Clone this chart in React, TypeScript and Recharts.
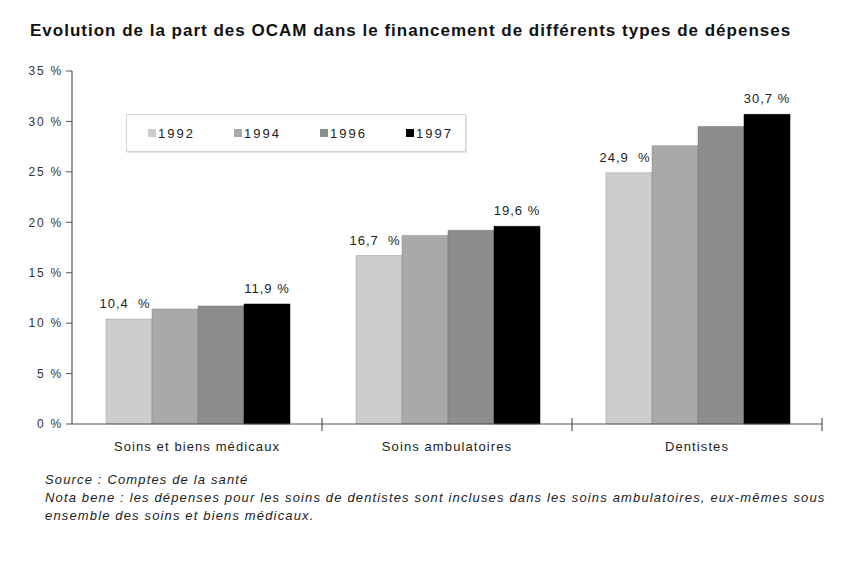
import React from "react";
import { BarChart, Bar, XAxis, YAxis, LabelList } from "recharts";

const categories = ["Soins et biens médicaux", "Soins ambulatoires", "Dentistes"];
const years = ["1992", "1994", "1996", "1997"];
const v1992 = [10.4, 16.7, 24.9];
const v1994 = [11.4, 18.7, 27.6];
const v1996 = [11.7, 19.2, 29.5];
const v1997 = [11.9, 19.6, 30.7];
const yTicks = [0, 5, 10, 15, 20, 25, 30, 35];
const colors = ["#cdcdcd", "#a9a9a9", "#8d8d8d", "#000000"];

const data = categories.map((c, i) => ({
  cat: c,
  y1992: v1992[i],
  y1994: v1994[i],
  y1996: v1996[i],
  y1997: v1997[i],
}));

const fmt = (v: number) => v.toFixed(1).replace(".", ",");

const FONT = "'Liberation Sans', Arial, Helvetica, sans-serif";

const CatTick = (props: any) => {
  const { x, y, payload } = props;
  const half = payload && typeof payload.offset === "number" ? payload.offset : 125;
  return (
    <g>
      <line x1={x + half} x2={x + half} y1={y - 6} y2={y + 7} stroke="#555" strokeWidth={1.2} />
      <text
        x={x}
        y={y + 27}
        textAnchor="middle"
        fontSize={13}
        fill="#222"
        style={{ fontFamily: FONT, letterSpacing: "1.1px" }}
      >
        {payload.value}
      </text>
    </g>
  );
};

const makeLabel = (suffix: string, dx: number) => (props: any) => {
  const { x, y, width, value } = props;
  return (
    <text
      x={Number(x) + Number(width) / 2 + dx}
      y={Number(y) - 11}
      textAnchor="middle"
      fontSize={13}
      fill="#222"
      style={{ fontFamily: FONT, letterSpacing: "1px" }}
    >
      {`${fmt(Number(value))}${suffix}`}
    </text>
  );
};

const Label1992 = makeLabel("\u00a0\u00a0%", -4);
const Label1997 = makeLabel("\u00a0%", 0);

const LegendBox = () => (
  <div
    style={{
      position: "absolute",
      left: 126,
      top: 114,
      width: 340,
      height: 38,
      border: "1px solid #d4d4d4",
      boxShadow: "1px 1px 1px #e4e4e4",
      background: "#fff",
      display: "flex",
      alignItems: "center",
      boxSizing: "border-box",
      paddingLeft: 21,
      fontFamily: FONT,
      overflow: "visible",
    }}
  >
    {years.map((y, i) => (
      <div key={y} style={{ width: 86, flexShrink: 0, display: "flex", alignItems: "center" }}>
        <span style={{ width: 8, height: 8, background: colors[i], display: "inline-block", marginRight: 2 }} />
        <span style={{ fontSize: 13, color: "#222", letterSpacing: "2px" }}>{y}</span>
      </div>
    ))}
  </div>
);

export default function App() {
  return (
    <div style={{ position: "absolute", left: 0, top: 0, width: 864, height: 567, background: "#fff", fontFamily: FONT }}>
      <div
        style={{
          position: "absolute",
          left: 30,
          top: 21,
          fontSize: 17,
          fontWeight: "bold",
          color: "#111",
          whiteSpace: "nowrap",
          letterSpacing: "1px",
        }}
      >
        Evolution de la part des OCAM dans le financement de différents types de dépenses
      </div>
      <BarChart
        width={864}
        height={567}
        data={data}
        margin={{ top: 71, right: 42, bottom: 113, left: 12 }}
        barCategoryGap={34}
        barGap={0}
      >
        <XAxis
          dataKey="cat"
          height={30}
          axisLine={{ stroke: "#555", strokeWidth: 1.2 }}
          tickLine={false}
          tickSize={0}
          tickMargin={0}
          tick={<CatTick />}
          interval={0}
        />
        <YAxis
          width={60}
          domain={[0, 35]}
          ticks={yTicks}
          interval={0}
          tickFormatter={(v: number) => `${v} %`}
          axisLine={{ stroke: "#555", strokeWidth: 1.2 }}
          tickLine={{ stroke: "#555" }}
          tickSize={6}
          tickMargin={3}
          tick={{ fontSize: 12, fill: "#333", fontFamily: FONT, letterSpacing: "1.8px" }}
        />
        <Bar dataKey="y1992" fill={colors[0]} stroke="#999" strokeWidth={0.5} isAnimationActive={false}>
          <LabelList dataKey="y1992" content={Label1992} />
        </Bar>
        <Bar dataKey="y1994" fill={colors[1]} stroke="#888" strokeWidth={0.5} isAnimationActive={false} />
        <Bar dataKey="y1996" fill={colors[2]} stroke="#777" strokeWidth={0.5} isAnimationActive={false} />
        <Bar dataKey="y1997" fill={colors[3]} stroke="#000" strokeWidth={0.5} isAnimationActive={false}>
          <LabelList dataKey="y1997" content={Label1997} />
        </Bar>
      </BarChart>
      <LegendBox />
      <div
        style={{
          position: "absolute",
          left: 45,
          top: 471,
          fontSize: 13,
          fontStyle: "italic",
          color: "#222",
          lineHeight: "18px",
          width: 810,
          whiteSpace: "nowrap",
          letterSpacing: "1.15px",
        }}
      >
        <div>Source : Comptes de la santé</div>
        <div>
          Nota bene : les dépenses pour les soins de dentistes sont incluses dans les soins ambulatoires, eux-mêmes sous
        </div>
        <div>ensemble des soins et biens médicaux.</div>
      </div>
    </div>
  );
}
